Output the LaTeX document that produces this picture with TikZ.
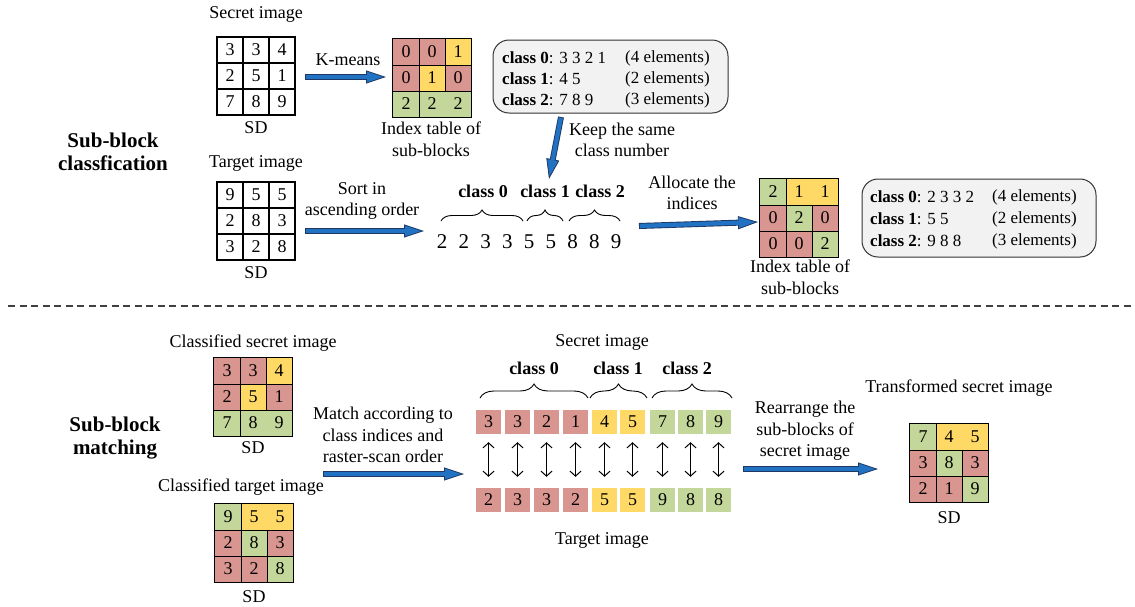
\documentclass[tikz,border=0pt]{standalone}
\usepackage{fontspec}
\setmainfont{Liberation Serif}
\usetikzlibrary{arrows.meta,decorations.pathreplacing,calc}
\definecolor{cred}{HTML}{D9958F}
\definecolor{cyel}{HTML}{FFD966}
\definecolor{cgrn}{HTML}{C4D79B}
\definecolor{bblue}{HTML}{2272C3}
\definecolor{bdark}{HTML}{1F3864}
\definecolor{boxgray}{HTML}{F2F2F2}
\tikzset{
 txt/.style={font=\fontsize{18}{21.5}\selectfont, align=center, inner sep=0pt},
 ttl/.style={font=\fontsize{21}{23}\selectfont\bfseries, align=center, inner sep=0pt},
 cls/.style={font=\fontsize{18}{20}\selectfont\bfseries, inner sep=0pt},
 boxtxt/.style={font=\fontsize{17}{20}\selectfont, inner sep=0pt, anchor=west},
 cell/.style={minimum width=26pt, minimum height=26pt, inner sep=0pt, font=\fontsize{18}{20}\selectfont},
 pcell/.style={cell, draw=black, line width=1.1pt},
 sq/.style={minimum width=25pt, minimum height=24pt, inner sep=0pt, font=\fontsize{18}{20}\selectfont},
 num/.style={font=\fontsize{21}{23}\selectfont, inner sep=0pt},
 gline/.style={line width=1.1pt, black},
 cbox/.style={draw=black!80, line width=1pt, fill=boxgray, rounded corners=16pt},
 barrow/.style={line width=6pt, draw=bdark, -{Triangle[length=20pt,width=13pt,line width=0.8pt,fill=bblue]}, postaction={draw=bblue, line width=4.2pt, -, shorten >=19pt, shorten <=0.8pt}},
 darr/.style={line width=1pt, {Straight Barb[length=5pt,width=11pt]}-{Straight Barb[length=5pt,width=11pt]}, shorten <=8pt, shorten >=11pt},
 brc/.style={decorate, decoration={brace, amplitude=#1}, line width=0.9pt},
}
\newcommand\cgrid[5]{%
 \foreach \c/\n [count=\i from 0] in {#4} {
   \pgfmathtruncatemacro\col{mod(\i,3)}
   \pgfmathtruncatemacro\row{div(\i,3)}
   \node[#5, fill=\c] (#1\i) at ({#2+\col*26+13},{#3+\row*26+13}) {\n};
 }}
\newcommand\linesA[1]{\draw[gline] (#10.north west) rectangle (#18.south east)
  (#10.north east) -- (#16.south east) (#11.north east) -- (#14.south east)
  (#10.south west) -- (#12.south east) (#13.south west) -- (#15.south east);}
\newcommand\linesB[1]{\draw[gline] (#10.north west) rectangle (#18.south east)
  (#10.north east) -- (#16.south east) (#14.north east) -- (#17.south east)
  (#10.south west) -- (#12.south east) (#13.south west) -- (#15.south east);}
\begin{document}
\begin{tikzpicture}[x=1pt,y=-1pt]
\useasboundingbox (0,0) rectangle (1135,606);
% ---------- top section ----------
\node[ttl] (t1) at (113,152) {Sub-block\\classfication};
\node[txt] (lsec) at (256,14) {Secret image};
\cgrid{s}{217}{37}{white/3,white/3,white/4,white/2,white/5,white/1,white/7,white/8,white/9}{pcell}
\node[txt] (sd1) at (256,128) {SD};
\node[txt] (lkm) at (348,60) {K-means};
\coordinate (k1) at (305,77); \coordinate (k2) at (386,77);
\draw[barrow] (k1) -- (k2);
\cgrid{a}{393}{39}{cred/0,cred/0,cyel/1,cred/0,cyel/1,cred/0,cgrn/2,cgrn/2,cgrn/2}{cell}
\linesA{a}
\node[txt] (lidx1) at (431,139) {Index table of\\sub-blocks};
\node[cbox, minimum width=235pt, minimum height=73pt] (box1) at (610.5,76.5) {};
\node[boxtxt] (b1a) at (502,58) {\textbf{class 0}: 3 3 2 1};
\node[boxtxt] (b1b) at (502,79) {\textbf{class 1}: 4 5};
\node[boxtxt] (b1c) at (502,100) {\textbf{class 2}: 7 8 9};
\node[boxtxt] (b1d) at (625,58) {(4 elements)};
\node[boxtxt] (b1e) at (625,79) {(2 elements)};
\node[boxtxt] (b1f) at (625,100) {(3 elements)};
\coordinate (kp1) at (561,117); \coordinate (kp2) at (549,179);
\draw[barrow] (kp1) -- (kp2);
\node[txt] (lkeep) at (622,140) {Keep the same\\class number};
\node[txt] (ltar) at (256,163) {Target image};
\cgrid{t}{217}{182}{white/9,white/5,white/5,white/2,white/8,white/3,white/3,white/2,white/8}{pcell}
\node[txt] (sd2) at (256,273) {SD};
\node[txt] (lsort) at (362,201) {Sort in\\ascending order};
\coordinate (so1) at (305,231); \coordinate (so2) at (424,231);
\draw[barrow] (so1) -- (so2);
\foreach \v [count=\j] in {2,2,3,3,5,5,8,8,9} {
  \node[num] (n\j) at ({442+(\j-1)*21.75},242) {\v};
}
\draw[brc=11pt] (441,221) -- (523,221);
\draw[brc=11pt] (527,221) -- (563,221);
\draw[brc=11pt] (569,221) -- (620,221);
\node[cls] (c0a) at (483,191) {class 0};
\node[cls] (c1a) at (545,191) {class 1};
\node[cls] (c2a) at (600,191) {class 2};
\node[txt] (lalloc) at (692,193) {Allocate the\\indices};
\coordinate (al1) at (639,226); \coordinate (al2) at (758,222);
\draw[barrow] (al1) -- (al2);
\cgrid{b}{760}{179}{cgrn/2,cyel/1,cyel/1,cred/0,cgrn/2,cred/0,cred/0,cred/0,cgrn/2}{cell}
\linesB{b}
\node[txt] (lidx2) at (800,277) {Index table of\\sub-blocks};
\node[cbox, minimum width=234pt, minimum height=78pt] (box2) at (979,218) {};
\node[boxtxt] (b2a) at (870,197) {\textbf{class 0}: 2 3 3 2};
\node[boxtxt] (b2b) at (870,219) {\textbf{class 1}: 5 5};
\node[boxtxt] (b2c) at (870,241) {\textbf{class 2}: 9 8 8};
\node[boxtxt] (b2d) at (992,197) {(4 elements)};
\node[boxtxt] (b2e) at (992,219) {(2 elements)};
\node[boxtxt] (b2f) at (992,241) {(3 elements)};
% ---------- separator ----------
\coordinate (d1) at (8,306); \coordinate (d2) at (1135,306);
\draw[black!75, line width=1.2pt, dash pattern=on 7pt off 4.5pt] (d1) -- (d2);
% ---------- bottom section ----------
\node[ttl] (t2) at (115,438) {Sub-block\\matching};
\node[txt] (lcs) at (253,343) {Classified secret image};
\cgrid{c}{214}{358}{cred/3,cred/3,cyel/4,cred/2,cyel/5,cred/1,cgrn/7,cgrn/8,cgrn/9}{cell}
\linesA{c}
\node[txt] (sd3) at (253,448) {SD};
\node[txt] (lct) at (241,487) {Classified target image};
\cgrid{d}{215}{504}{cgrn/9,cyel/5,cyel/5,cred/2,cgrn/8,cred/3,cred/3,cred/2,cgrn/8}{cell}
\linesB{d}
\node[txt] (sd4) at (254,597) {SD};
\node[txt] (lmatch) at (383,435) {Match according to\\class indices and\\raster-scan order};
\coordinate (m1) at (323,474); \coordinate (m2) at (464,474);
\draw[barrow] (m1) -- (m2);
\node[txt] (lsec2) at (602,342) {Secret image};
\node[cls] (c0b) at (534,368) {class 0};
\node[cls] (c1b) at (618,368) {class 1};
\node[cls] (c2b) at (687,368) {class 2};
\draw[brc=14pt] (480,398) -- (588,398);
\draw[brc=14pt] (590,398) -- (647,398);
\draw[brc=14pt] (652,398) -- (732,398);
\foreach \x/\c/\u/\w [count=\j] in {488.5/cred/3/2,517.5/cred/3/3,546.5/cred/2/3,575.5/cred/1/2,604.5/cyel/4/5,632.5/cyel/5/5,662.5/cgrn/7/9,690.5/cgrn/8/8,718.5/cgrn/9/8} {
  \node[sq, fill=\c] (p\j) at (\x,422) {\u};
  \node[sq, fill=\c] (q\j) at (\x,500) {\w};
  \draw[darr] (p\j.south) -- (q\j.north);
}
\node[txt] (ltar2) at (602,540) {Target image};
\node[txt] (lrear) at (805,431) {Rearrange the\\sub-blocks of\\secret image};
\coordinate (r1) at (743,469); \coordinate (r2) at (878,469);
\draw[barrow] (r1) -- (r2);
\node[txt] (ltr) at (959,388) {Transformed secret image};
\cgrid{e}{910}{424}{cgrn/7,cyel/4,cyel/5,cred/3,cgrn/8,cred/3,cred/2,cred/1,cgrn/9}{cell}
\linesB{e}
\node[txt] (sd5) at (949,518) {SD};
\end{tikzpicture}
\end{document}
